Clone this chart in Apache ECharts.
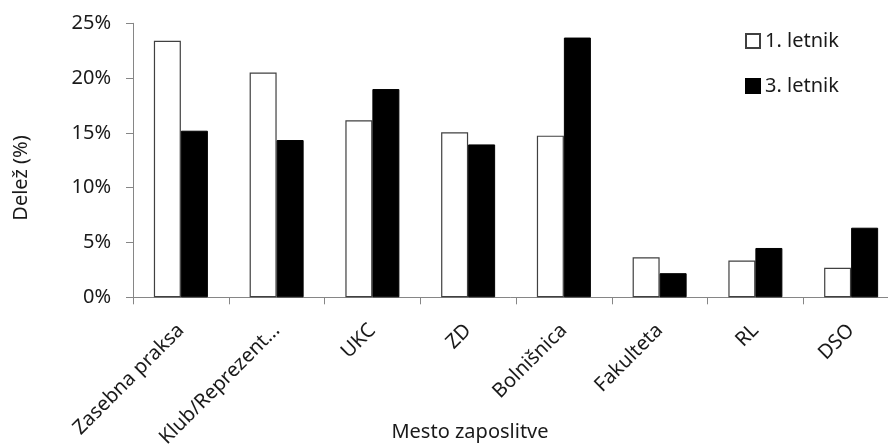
<!DOCTYPE html>
<html>
<head>
<meta charset="utf-8">
<script src="https://cdn.jsdelivr.net/npm/echarts@6/dist/echarts.min.js"></script>
<style>html,body{margin:0;padding:0;background:#fff}#c{width:888px;height:444px}</style>
</head>
<body>
<div id="c"></div>
<script>
const categories = ['Zasebna praksa', 'Klub/Reprezent…', 'UKC', 'ZD', 'Bolnišnica', 'Fakulteta', 'RL', 'DSO'];
const seriesNames = ['1. letnik', '3. letnik'];
const letnik1 = [23.4, 20.5, 16.15, 15.05, 14.75, 3.65, 3.35, 2.7];
const letnik3 = [15.2, 14.35, 19.0, 13.95, 23.7, 2.2, 4.5, 6.35];
const yTicks = [0, 5, 10, 15, 20, 25];
const xTitle = 'Mesto zaposlitve';
const yTitle = 'Delež (%)';

const FONT = 'Noto Sans';
const TXT = '#1a1a1a';
const chart = echarts.init(document.getElementById('c'), null, {renderer: 'canvas'});
chart.setOption({
  animation: false,
  backgroundColor: '#fff',
  textStyle: {fontFamily: FONT},
  grid: {left: 133, right: -11, top: 23.3, bottom: 146.7, containLabel: false, outerBoundsMode: 'none'},
  legend: {
    orient: 'vertical', left: 740, top: 26, itemGap: 25,
    itemWidth: 14, itemHeight: 14, icon: 'rect',
    textStyle: {fontFamily: FONT, fontSize: 20, color: TXT},
    data: seriesNames
  },
  xAxis: {
    type: 'category', data: categories,
    axisLine: {lineStyle: {color: '#868686', width: 1}},
    axisTick: {show: true, length: 7, lineStyle: {color: '#868686'}},
    axisLabel: {rotate: 45, margin: 30, fontFamily: FONT, fontSize: 20, color: TXT, interval: 0, hideOverlap: false}
  },
  yAxis: {
    type: 'value', min: yTicks[0], max: yTicks[yTicks.length - 1], interval: 5,
    axisLine: {show: true, lineStyle: {color: '#868686', width: 1}},
    axisTick: {show: true, length: 7, lineStyle: {color: '#868686'}},
    splitLine: {show: false},
    axisLabel: {margin: 22, fontFamily: FONT, fontSize: 20, color: TXT, formatter: v => v + '%'}
  },
  graphic: [
    {type: 'text', x: 470, y: 432, style: {text: xTitle, fontFamily: FONT, fontSize: 20, fill: TXT, align: 'center', verticalAlign: 'middle'}},
    {type: 'text', x: 21, y: 178, rotation: Math.PI / 2, style: {text: yTitle, fontFamily: FONT, fontSize: 20, fill: TXT, align: 'center', verticalAlign: 'middle'}}
  ],
  series: [
    {name: seriesNames[0], type: 'bar', data: letnik1, barGap: '0%', barCategoryGap: '43.6%',
     itemStyle: {color: '#ffffff', borderColor: '#404040', borderWidth: 1.2}},
    {name: seriesNames[1], type: 'bar', data: letnik3, barGap: '0%', barCategoryGap: '43.6%',
     itemStyle: {color: '#000000', borderColor: '#000000', borderWidth: 1}}
  ]
});
</script>
</body>
</html>
